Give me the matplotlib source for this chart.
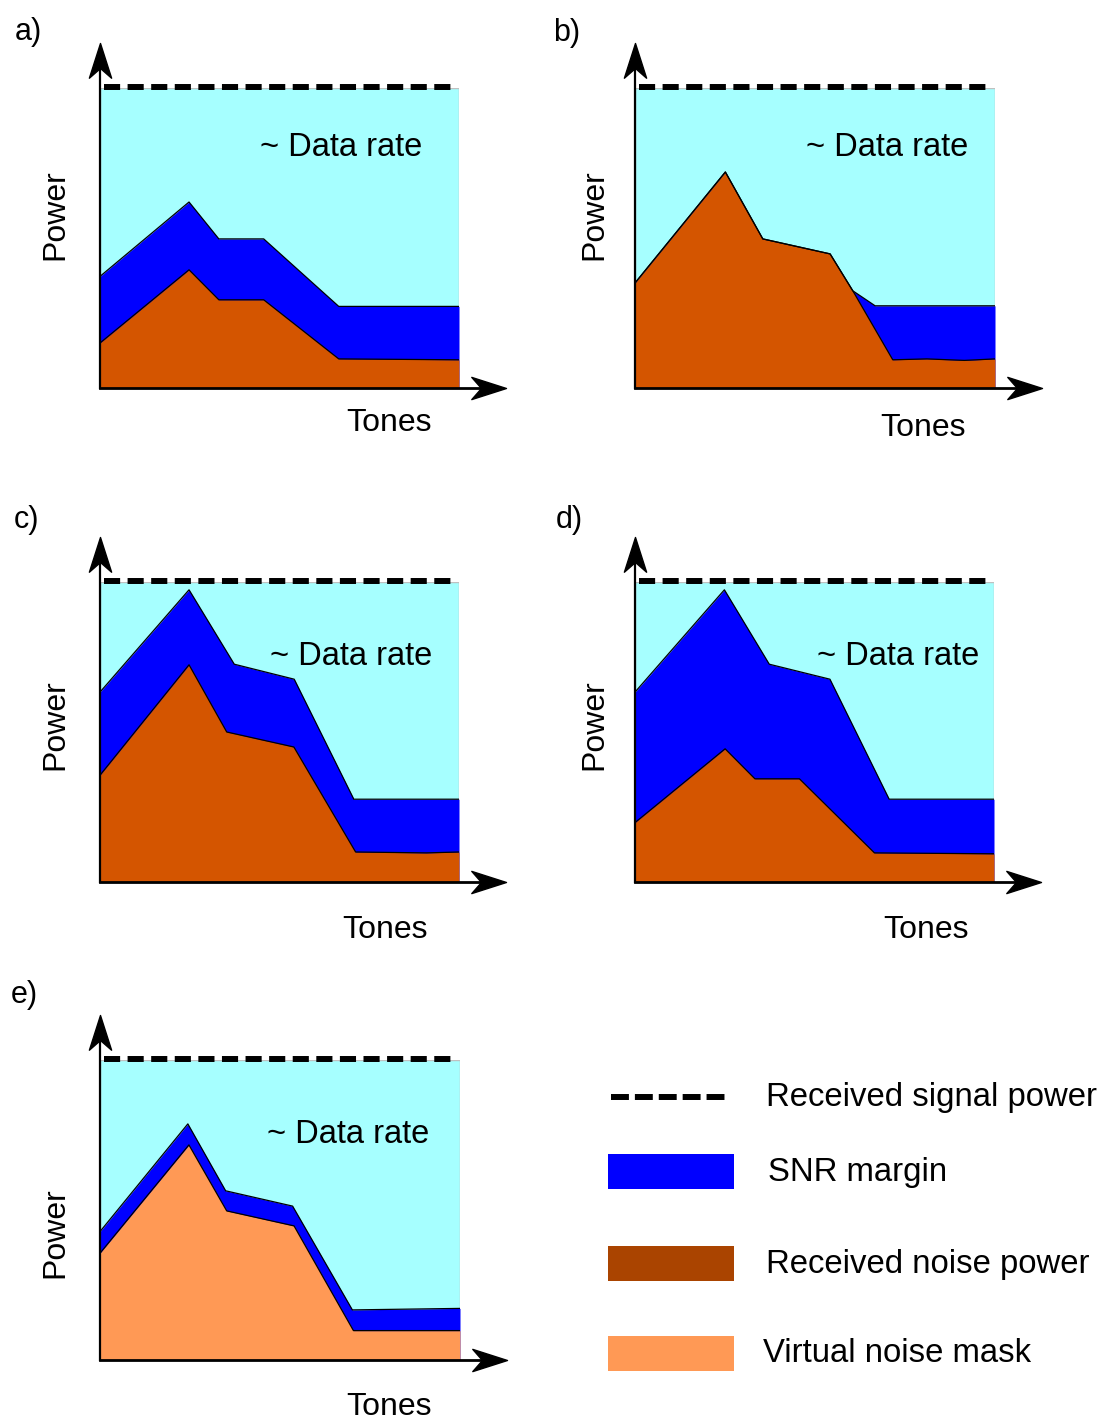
import matplotlib
matplotlib.use("Agg")
import matplotlib.pyplot as plt
from matplotlib.path import Path
from matplotlib.patches import Rectangle

plt.rcParams['font.family'] = ['Liberation Sans', 'DejaVu Sans']

# Schematic data: tones 0..1 across the band, power relative to received signal power (1.0)
# a) margin on top of received noise
a_margin_x = [0, 0.248, 0.331, 0.456, 0.665, 1.0]
a_margin_y = [0.372, 0.620, 0.497, 0.497, 0.272, 0.272]
a_noise_x = [0, 0.248, 0.331, 0.456, 0.665, 1.0]
a_noise_y = [0.150, 0.394, 0.294, 0.294, 0.097, 0.094]

# b) noise rises above the margin
b_margin_x = [0, 0.251, 0.355, 0.542, 0.605, 0.667, 1.0]
b_margin_y = [0.350, 0.720, 0.497, 0.447, 0.324, 0.274, 0.274]
b_noise_x = [0, 0.251, 0.355, 0.542, 0.605, 0.716, 0.811, 0.915, 1.0]
b_noise_y = [0.350, 0.720, 0.497, 0.447, 0.324, 0.094, 0.097, 0.092, 0.097]

# c) margin above the raised noise
c_margin_x = [0, 0.248, 0.374, 0.541, 0.707, 1.0]
c_margin_y = [0.633, 0.974, 0.726, 0.676, 0.276, 0.276]
c_noise_x = [0, 0.248, 0.353, 0.540, 0.712, 0.909, 1.0]
c_noise_y = [0.356, 0.724, 0.500, 0.450, 0.100, 0.097, 0.100]

# d) large margin over low noise
d_margin_x = [0, 0.249, 0.374, 0.543, 0.708, 1.0]
d_margin_y = [0.633, 0.974, 0.726, 0.676, 0.276, 0.276]
d_noise_x = [0, 0.251, 0.334, 0.458, 0.667, 1.0]
d_noise_y = [0.198, 0.444, 0.344, 0.344, 0.097, 0.094]

# e) virtual noise mask
e_margin_x = [0, 0.244, 0.349, 0.535, 0.701, 1.0]
e_margin_y = [0.428, 0.787, 0.564, 0.513, 0.167, 0.172]
e_mask_x = [0, 0.247, 0.352, 0.539, 0.704, 1.0]
e_mask_y = [0.356, 0.717, 0.497, 0.447, 0.098, 0.098]

legend_labels = ["Received signal power", "SNR margin", "Received noise power", "Virtual noise mask"]

CYAN = '#A6FFFF'
BLUE = '#0000FF'
ORANGE = '#D45500'
BROWN = '#AA4400'
MASK = '#FF9955'

W, H = 1101, 1423
fig = plt.figure(figsize=(W / 100, H / 100), dpi=100)

# arrow heads (concave, like the drawing tool's default)
up_head = Path([(0, 0), (-0.32, -1), (0, -0.72), (0.32, -1), (0, 0)],
               [Path.MOVETO, Path.LINETO, Path.LINETO, Path.LINETO, Path.CLOSEPOLY])
right_head = Path([(0, 0), (-1, 0.32), (-0.72, 0), (-1, -0.32), (0, 0)],
                  [Path.MOVETO, Path.LINETO, Path.LINETO, Path.LINETO, Path.CLOSEPOLY])


def make_ax(left, right, top, bottom):
    ax = fig.add_axes([left / W, 1 - bottom / H, (right - left) / W, (bottom - top) / H])
    ax.set_xlim(0, 1)
    ax.set_ylim(0, 1)
    ax.axis('off')
    return ax


def panel(ax, letter, margin_x, margin_y, noise_x, noise_y, noise_color, pos):
    ax.add_patch(Rectangle((0, 0), 1, 1, facecolor=CYAN, edgecolor='#c0c0c0', lw=1, zorder=1))
    ax.fill_between(margin_x, 0, margin_y, color=BLUE, lw=0, zorder=2)
    ax.fill_between(noise_x, 0, noise_y, color=noise_color, lw=0, zorder=3)
    ax.plot(margin_x, margin_y, color='black', lw=0.9, zorder=4)
    ax.plot(noise_x, noise_y, color='black', lw=0.9, zorder=4)
    ax.plot([0.01, 0.99], [1.003, 1.003], color='black', lw=4.3, linestyle=(0, (2.7, 1.25)),
            zorder=5, clip_on=False, dash_capstyle='butt')
    # axes with arrows
    ax.plot([0, 0], [0, 1.12], color='black', lw=1.6, clip_on=False, zorder=6)
    ax.plot([0, 1.10], [0, 0], color='black', lw=2.0, clip_on=False, zorder=6)
    ax.plot([0], [1.15], marker=up_head, markersize=50, color='black', clip_on=False, zorder=7)
    ax.plot([1.13], [0], marker=right_head, markersize=50, color='black', clip_on=False, zorder=7)

    ax.text(pos['power'][0], pos['power'][1], "Power", rotation=90, fontsize=23,
            ha='center', va='center', transform=ax.transAxes)
    ax.text(pos['tones'][0], pos['tones'][1], "Tones", fontsize=23,
            ha='center', va='center', transform=ax.transAxes)
    ax.text(pos['rate'][0], pos['rate'][1], "~ Data rate", fontsize=23.5,
            ha='left', va='center', transform=ax.transAxes, zorder=8)
    ax.text(pos['letter'][0], pos['letter'][1], letter, fontsize=22,
            ha='left', va='center', transform=ax.transAxes)


ax_a = make_ax(100, 459, 88, 388)
panel(ax_a, "a)", a_margin_x, a_margin_y, a_noise_x, a_noise_y, ORANGE,
      {'power': (-0.125, 0.577), 'tones': (0.805, -0.117), 'rate': (0.446, 0.80), 'letter': (-0.237, 1.187)})

ax_b = make_ax(635, 995, 88, 388)
panel(ax_b, "b)", b_margin_x, b_margin_y, b_noise_x, b_noise_y, ORANGE,
      {'power': (-0.114, 0.577), 'tones': (0.80, -0.133), 'rate': (0.475, 0.80), 'letter': (-0.228, 1.183)})

ax_c = make_ax(100, 459, 582, 882)
panel(ax_c, "c)", c_margin_x, c_margin_y, c_noise_x, c_noise_y, ORANGE,
      {'power': (-0.125, 0.523), 'tones': (0.794, -0.16), 'rate': (0.474, 0.753), 'letter': (-0.24, 1.207)})

ax_d = make_ax(635, 994, 582, 882)
panel(ax_d, "d)", d_margin_x, d_margin_y, d_noise_x, d_noise_y, ORANGE,
      {'power': (-0.114, 0.523), 'tones': (0.811, -0.16), 'rate': (0.506, 0.753), 'letter': (-0.222, 1.207)})

ax_e = make_ax(100, 460, 1060, 1360)
panel(ax_e, "e)", e_margin_x, e_margin_y, e_mask_x, e_mask_y, MASK,
      {'power': (-0.125, 0.423), 'tones': (0.803, -0.157), 'rate': (0.464, 0.753), 'letter': (-0.247, 1.217)})

# legend drawn by hand
lg = fig.add_axes([600 / W, 1 - 1385 / H, 500 / W, 310 / H])
lg.set_xlim(0, 1)
lg.set_ylim(1, 0)
lg.axis('off')
rows = [0.071, 0.313, 0.610, 0.900]
text_x = [0.332, 0.336, 0.332, 0.326]
lg.plot([0.022, 0.25], [rows[0], rows[0]], color='black', lw=4.3, linestyle=(0, (3.0, 1.0)),
        dash_capstyle='butt')
for r, c in zip(rows[1:], [BLUE, BROWN, MASK]):
    lg.add_patch(Rectangle((0.016, r - 0.057), 0.252, 0.113, facecolor=c, edgecolor='none'))
for r, tx, lab in zip(rows, text_x, legend_labels):
    lg.text(tx, r, lab, fontsize=23.7, ha='left', va='center')

fig.savefig("out.png", dpi=100)
